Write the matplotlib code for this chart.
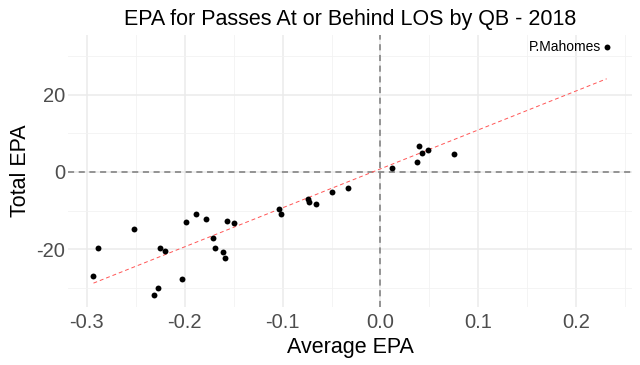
import numpy as np
import matplotlib
matplotlib.use("Agg")
import matplotlib.pyplot as plt
from matplotlib.ticker import MultipleLocator

plt.rcParams['font.family'] = ['Liberation Sans', 'DejaVu Sans']
plt.rcParams['axes.unicode_minus'] = False

# average EPA and total EPA per QB (passes at or behind the line of scrimmage)
avg_epa = [-0.293, -0.2885, -0.2517, -0.231, -0.2269, -0.2249, -0.2198, -0.2028,
           -0.1987, -0.1885, -0.178, -0.1711, -0.1687, -0.161, -0.1592, -0.1572,
           -0.1497, -0.1038, -0.1017, -0.0739, -0.0725, -0.066, -0.049, -0.0334,
           0.0119, 0.0377, 0.0394, 0.0425, 0.048, 0.0751, 0.2309]
total_epa = [-27.0, -19.65, -14.8, -31.9, -30.2, -19.7, -20.4, -27.7,
             -13.1, -10.8, -12.2, -17.2, -19.7, -20.7, -22.2, -12.8,
             -13.2, -9.5, -10.8, -6.9, -7.7, -8.2, -5.25, -4.05,
             1.03, 2.6, 6.7, 5.0, 5.7, 4.7, 32.4]
label_name = "P.Mahomes"

x = np.array(avg_epa)
y = np.array(total_epa)

fig = plt.figure(figsize=(6.4, 3.65), dpi=100)
ax = fig.add_axes([0.106, 0.158, 0.882, 0.747])

# grid like theme_minimal
ax.xaxis.set_major_locator(MultipleLocator(0.1))
ax.xaxis.set_minor_locator(MultipleLocator(0.05))
ax.yaxis.set_major_locator(MultipleLocator(20))
ax.yaxis.set_minor_locator(MultipleLocator(10))
ax.grid(which='major', color='#ebebeb', linewidth=1.1)
ax.grid(which='minor', color='#f2f2f2', linewidth=0.6)
ax.set_axisbelow(True)
for s in ax.spines.values():
    s.set_visible(False)
ax.tick_params(which='both', length=0)
ax.tick_params(labelsize=14.5, colors='#4d4d4d')
ax.tick_params(axis='x', pad=4)
ax.tick_params(axis='y', pad=2)

ax.axhline(0, color='#7a7a7a', linestyle=(0, (4, 3)), linewidth=1.1, zorder=1)
ax.axvline(0, color='#7a7a7a', linestyle=(0, (4, 3)), linewidth=1.1, zorder=1)

# linear fit
slope, intercept = np.polyfit(x, y, 1)
xs = np.array([x.min(), x.max()])
ax.plot(xs, slope * xs + intercept, color='#ff5555', linestyle=(0, (4, 3)), linewidth=0.7, zorder=2)

ax.scatter(x, y, s=18, color='black', zorder=3, linewidths=0)

i = np.argmax(y)
ax.annotate(label_name, (x[i], y[i]), xytext=(-4, 0), textcoords='offset points',
            ha='right', va='center', fontsize=10)

ax.margins(x=0.05, y=0.05)

ax.set_title("EPA for Passes At or Behind LOS by QB - 2018", fontsize=15.5, pad=7)
ax.set_xlabel("Average EPA", fontsize=15.5, labelpad=4)
ax.set_ylabel("Total EPA", fontsize=15.5, labelpad=4)

fig.savefig("out.png", dpi=100)
